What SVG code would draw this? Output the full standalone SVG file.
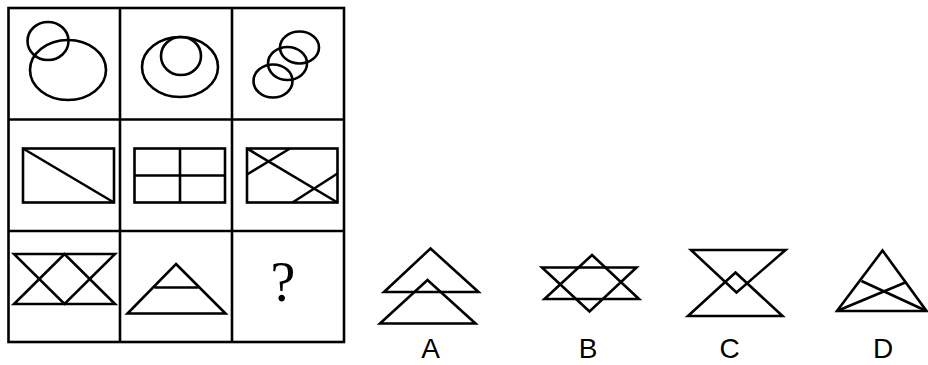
<svg xmlns="http://www.w3.org/2000/svg" width="928" height="365" viewBox="0 0 928 365">
<style>
.s{fill:none;stroke:#000;stroke-width:2.6;stroke-linejoin:miter}
.g{fill:none;stroke:#000;stroke-width:2.6}
.lbl{font-family:"Liberation Sans",Arial,sans-serif;font-size:28px;fill:#000;text-anchor:middle}
.q{font-family:"Liberation Serif","Times New Roman",serif;font-size:56px;fill:#000;text-anchor:middle}
</style>
<rect width="928" height="365" fill="#fff"/>
<g id="grid" class="g">
<rect x="8.5" y="8" width="335.5" height="334"/>
<line x1="120" y1="8" x2="120" y2="342"/>
<line x1="232" y1="8" x2="232" y2="342"/>
<line x1="8.5" y1="119.5" x2="344" y2="119.5"/>
<line x1="8.5" y1="231" x2="344" y2="231"/>
</g>
<g id="r1c1" class="s">
<ellipse cx="48" cy="41" rx="20.5" ry="19"/>
<ellipse cx="68" cy="70" rx="38" ry="30"/>
</g>
<g id="r1c2" class="s">
<ellipse cx="180" cy="67" rx="38" ry="30"/>
<ellipse cx="181" cy="56" rx="20" ry="19"/>
</g>
<g id="r1c3" class="s">
<ellipse cx="299.5" cy="47.5" rx="19.5" ry="16"/>
<ellipse cx="287.5" cy="63.5" rx="19.5" ry="16.5"/>
<ellipse cx="273" cy="81" rx="19.5" ry="16.5"/>
</g>
<g id="r2c1" class="s">
<rect x="23" y="148.5" width="91" height="54"/>
<line x1="23" y1="148.5" x2="114" y2="202.5"/>
</g>
<g id="r2c2" class="s">
<rect x="134.5" y="148.5" width="90.5" height="54"/>
<line x1="180" y1="148.5" x2="180" y2="202.5"/>
<line x1="134.5" y1="175.5" x2="225" y2="175.5"/>
</g>
<g id="r2c3" class="s">
<rect x="247" y="148.5" width="90.5" height="54"/>
<line x1="247" y1="148.5" x2="337.5" y2="202.5"/>
<line x1="290" y1="148.5" x2="247" y2="174.5"/>
<line x1="337.5" y1="173.5" x2="292.5" y2="202.5"/>
</g>
<g id="r3c1" class="s">
<polygon points="14,254 115,254 64.5,304"/>
<polygon points="14,304 115,304 64.5,254"/>
</g>
<g id="r3c2" class="s">
<polygon points="176,264 225.5,313.5 127.5,313.5"/>
<line x1="154.5" y1="287.5" x2="198.5" y2="287.5"/>
</g>
<g id="r3c3">
<text class="q" x="283" y="301">?</text>
</g>
<g id="optA" class="s">
<polygon points="430.5,248.5 478.5,292 384,292"/>
<polygon points="427.5,280 475.5,323.5 380,323.5"/>
</g>
<g id="optB" class="s">
<polygon points="592,255 639,299 544.5,299"/>
<polygon points="542,267.5 636.5,267.5 589.5,311.5"/>
</g>
<g id="optC" class="s">
<polygon points="735.5,272.5 782.5,316 688,316"/>
<polygon points="691,250 785.5,250 736.5,292.5"/>
</g>
<g id="optD" class="s">
<polygon points="882.5,250.5 926.5,311 837,311"/>
<line x1="837" y1="311" x2="906.5" y2="282"/>
<line x1="926.5" y1="311" x2="861.5" y2="281"/>
</g>
<g id="labels">
<text class="lbl" x="430.5" y="358">A</text>
<text class="lbl" x="588" y="358">B</text>
<text class="lbl" x="729.5" y="358">C</text>
<text class="lbl" x="883" y="358">D</text>
</g>
</svg>
